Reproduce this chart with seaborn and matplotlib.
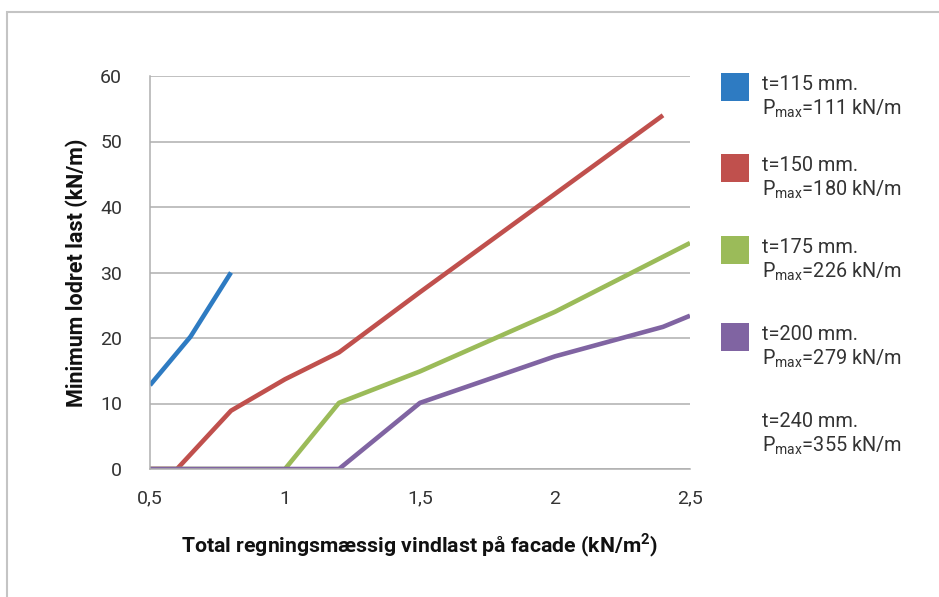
import matplotlib
matplotlib.use("Agg")
import matplotlib.pyplot as plt
from matplotlib.patches import Rectangle
from matplotlib.ticker import MultipleLocator, FixedLocator
import seaborn as sns
import pandas as pd

# ---- data ----
x_115 = [0.5, 0.65, 0.8]
y_115 = [12.8, 20.2, 30.0]

x_150 = [0.5, 0.6, 0.8, 1.0, 1.2, 1.5, 2.0, 2.4]
y_150 = [0.0, 0.0, 8.9, 13.7, 17.8, 27.0, 42.0, 54.0]

x_175 = [0.5, 1.0, 1.2, 1.5, 2.0, 2.5]
y_175 = [0.0, 0.0, 10.1, 14.9, 24.0, 34.5]

x_200 = [0.5, 1.2, 1.5, 2.0, 2.4, 2.5]
y_200 = [0.0, 0.0, 10.1, 17.2, 21.7, 23.4]

series_t = ["t=115 mm.", "t=150 mm.", "t=175 mm.", "t=200 mm.", "t=240 mm."]
series_pmax = ["111", "180", "226", "279", "355"]
colors = ["#2E7BC2", "#C0504D", "#9BBB59", "#8064A2", None]

x_ticks = [0.5, 1.0, 1.5, 2.0, 2.5]
x_tick_labels = ["0,5", "1", "1,5", "2", "2,5"]
y_ticks = [0, 10, 20, 30, 40, 50, 60]

sns.set_theme(style="white")
plt.rcParams["font.family"] = ["Roboto", "DejaVu Sans"]
plt.rcParams["mathtext.fontset"] = "custom"
plt.rcParams["mathtext.rm"] = "Roboto"

W, H = 939, 597
fig = plt.figure(figsize=(W / 100, H / 100), dpi=100)
fig.patch.set_facecolor("white")
ax = fig.add_axes([150 / W, 1 - 469 / H, (690 - 150) / W, (469 - 76) / H])

frames = []
for i, (xs, ys) in enumerate([(x_115, y_115), (x_150, y_150), (x_175, y_175), (x_200, y_200)]):
    frames.append(pd.DataFrame({"x": xs, "y": ys, "s": series_t[i]}))
df = pd.concat(frames, ignore_index=True)

palette = {series_t[i]: colors[i] for i in range(4)}
sns.lineplot(data=df, x="x", y="y", hue="s", palette=palette, ax=ax,
             linewidth=3.3, legend=False, sort=False, estimator=None,
             solid_capstyle="butt")

ax.set_xlim(0.5, 2.5)
ax.set_ylim(0, 60)
ax.xaxis.set_major_locator(FixedLocator(x_ticks))
ax.set_xticklabels(x_tick_labels)
ax.xaxis.set_minor_locator(MultipleLocator(0.1))
ax.yaxis.set_major_locator(FixedLocator(y_ticks))
ax.yaxis.set_minor_locator(MultipleLocator(5))

gcol = "#AFAFAF"
ax.grid(axis="y", which="major", color=gcol, linewidth=1.1)
ax.set_axisbelow(True)
for s in ["top", "right"]:
    ax.spines[s].set_visible(False)
for s in ["left", "bottom"]:
    ax.spines[s].set_color(gcol)
    ax.spines[s].set_linewidth(1.1)

txtcol = "#333333"
ax.tick_params(axis="both", which="both", direction="out", color=gcol, width=1.1, length=7)
ax.tick_params(axis="x", which="major", labelsize=14, pad=8, labelcolor=txtcol)
ax.tick_params(axis="y", which="major", labelsize=14, pad=13, labelcolor=txtcol)

ax.set_xlabel("Total regningsmæssig vindlast på facade (kN/m$^\\mathregular{2}$)",
              fontsize=15.3, fontweight="bold", labelpad=17, color="#111111")
ax.set_ylabel("Minimum lodret last (kN/m)", fontsize=15.5, fontweight="bold",
              labelpad=9, color="#111111")

# legend (manual layout, Excel-style)
leg_base = [90, 171, 253, 340, 427]
for i in range(5):
    yb = leg_base[i]
    if colors[i] is not None:
        fig.add_artist(Rectangle((721 / W, 1 - (yb + 11) / H), 28 / W, 28 / H,
                                 transform=fig.transFigure, facecolor=colors[i],
                                 edgecolor="none"))
    fig.text(762 / W, 1 - yb / H, series_t[i], fontsize=14.3, color=txtcol,
             va="baseline", ha="left")
    fig.text(762 / W, 1 - (yb + 25) / H,
             "P$_\\mathregular{max}$=" + series_pmax[i] + " kN/m",
             fontsize=14.3, color=txtcol, va="baseline", ha="left")

fig.add_artist(Rectangle((7 / W, -0.1), 1.2, 1.1 - 12 / H, transform=fig.transFigure,
                         fill=False, edgecolor="#C4C4C4", linewidth=1.5))

fig.savefig("out.png", dpi=100, facecolor="white")
